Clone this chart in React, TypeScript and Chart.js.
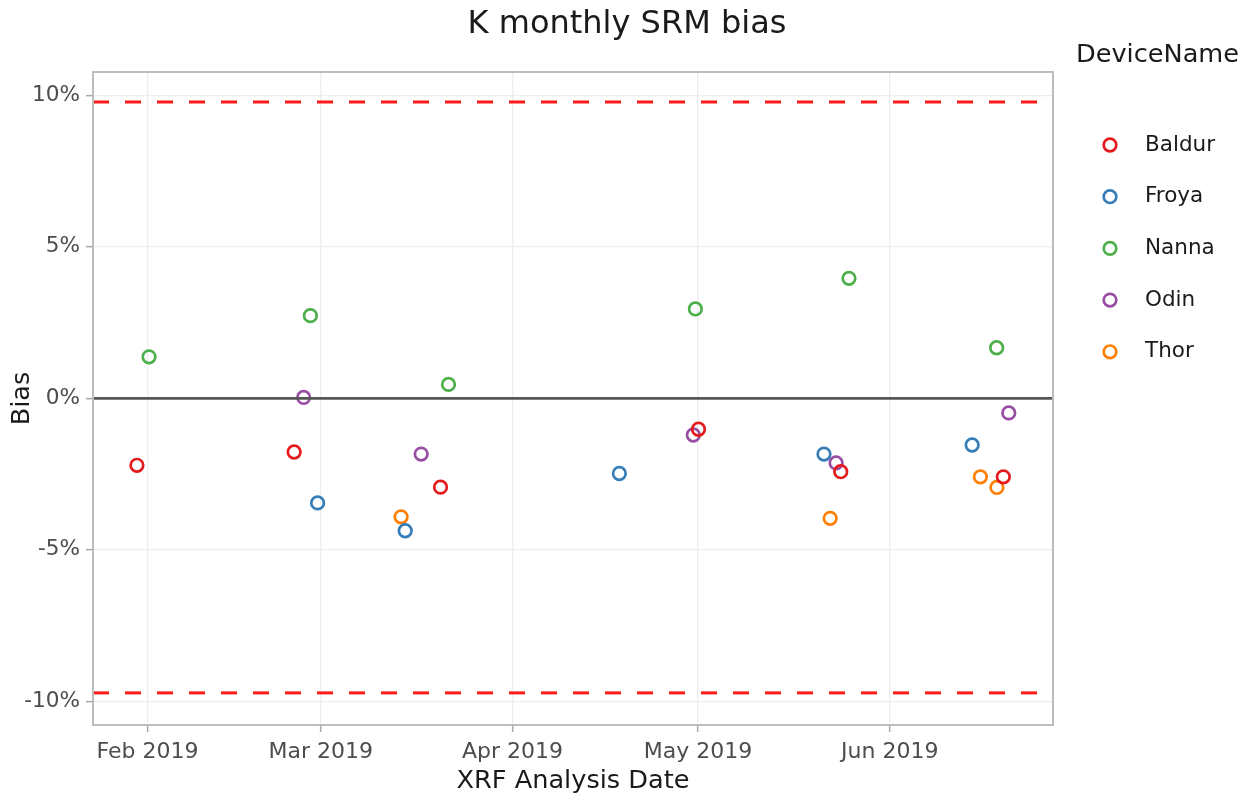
import React, { useEffect, useRef } from "react";
import { Chart, registerables } from "chart.js";

Chart.register(...registerables);

// ---- Data ----
const chartTitle = "K monthly SRM bias";
const xAxisTitle = "XRF Analysis Date";
const yAxisTitle = "Bias";
const legendTitle = "DeviceName";

const deviceNames = ["Baldur", "Froya", "Nanna", "Odin", "Thor"];

const baldurDates = ["2019-01-30T07:00", "2019-02-24T17:00", "2019-03-20T09:00", "2019-05-01T02:00", "2019-05-24T02:00", "2019-06-19T09:00"];
const baldurBias = [-2.21, -1.77, -2.93, -1.02, -2.42, -2.59];

const froyaDates = ["2019-02-28T12:00", "2019-03-14T16:00", "2019-04-18T07:00", "2019-05-21T09:00", "2019-06-14T08:00"];
const froyaBias = [-3.45, -4.37, -2.48, -1.84, -1.54];

const nannaDates = ["2019-02-01T06:00", "2019-02-27T08:00", "2019-03-21T16:00", "2019-04-30T14:00", "2019-05-25T10:00", "2019-06-18T07:00"];
const nannaBias = [1.37, 2.73, 0.46, 2.95, 3.96, 1.67];

const odinDates = ["2019-02-26T06:00", "2019-03-17T06:00", "2019-04-30T06:00", "2019-05-23T08:00", "2019-06-20T06:00"];
const odinBias = [0.03, -1.84, -1.21, -2.13, -0.48];

const thorDates = ["2019-03-14T00:00", "2019-05-22T09:00", "2019-06-15T16:00", "2019-06-18T08:00"];
const thorBias = [-3.91, -3.96, -2.59, -2.94];

const xTickDates = ["2019-02-01T00:00", "2019-03-01T00:00", "2019-04-01T00:00", "2019-05-01T00:00", "2019-06-01T00:00"];
const xTickLabels = ["Feb 2019", "Mar 2019", "Apr 2019", "May 2019", "Jun 2019"];
const yTickValues = [-10, -5, 0, 5, 10];

const xRange = ["2019-01-23T04:30", "2019-06-27T09:40"];
const yRange = [-10.78, 10.77];

const centerLine = 0;
const upperLimit = 9.78;
const lowerLimit = -9.72;

// ---- Styles ----
const deviceColors = ["#E41A1C", "#377EB8", "#4DAF4A", "#984EA3", "#FF7F00"];
const FONT = "'DejaVu Sans', Verdana, sans-serif";

const toMs = (s: string) => Date.parse(s + "Z");

const seriesDates = [baldurDates, froyaDates, nannaDates, odinDates, thorDates];
const seriesBias = [baldurBias, froyaBias, nannaBias, odinBias, thorBias];

const panelAndLegend = {
  id: "panelAndLegend",
  afterDatasetsDraw(chart: any) {
    const { ctx, chartArea: a } = chart;
    ctx.save();
    ctx.strokeStyle = "#bdbdbd";
    ctx.lineWidth = 2;
    ctx.strokeRect(a.left, a.top, a.right - a.left, a.bottom - a.top);
    ctx.restore();
  },
  afterDraw(chart: any) {
    const { ctx, chartArea: a } = chart;
    ctx.save();
    ctx.textBaseline = "middle";
    ctx.textAlign = "left";
    ctx.fillStyle = "#1a1a1a";
    ctx.font = `25.6px ${FONT}`;
    ctx.fillText(legendTitle, a.right + 23, 55);
    ctx.font = `21.5px ${FONT}`;
    deviceNames.forEach((name, i) => {
      const y = 145 + i * 51.7;
      ctx.beginPath();
      ctx.arc(a.right + 57, y, 6.3, 0, Math.PI * 2);
      ctx.strokeStyle = deviceColors[i];
      ctx.lineWidth = 2.7;
      ctx.stroke();
      ctx.fillStyle = "#1a1a1a";
      ctx.fillText(name, a.right + 92, y);
    });
    ctx.restore();
  },
};

export default function App() {
  const canvasRef = useRef<HTMLCanvasElement | null>(null);

  useEffect(() => {
    if (!canvasRef.current) return;
    const xMin = toMs(xRange[0]);
    const xMax = toMs(xRange[1]);
    const xTicks = xTickDates.map(toMs);

    const hline = (v: number, color: string, width: number, dash: number[]) => ({
      type: "line" as const,
      label: "",
      data: [
        { x: xMin, y: v },
        { x: xMax, y: v },
      ],
      showLine: true,
      borderColor: color,
      borderWidth: width,
      borderDash: dash,
      pointRadius: 0,
      fill: false,
    });

    const pointSets = deviceNames.map((name, i) => ({
      type: "scatter" as const,
      label: name,
      data: seriesDates[i].map((d, j) => ({ x: toMs(d), y: seriesBias[i][j] })),
      borderColor: deviceColors[i],
      backgroundColor: "rgba(0,0,0,0)",
      pointRadius: 6.3,
      pointBorderWidth: 2.7,
      pointHoverRadius: 6.3,
    }));

    const chart = new Chart(canvasRef.current, {
      type: "scatter",
      data: {
        datasets: [
          hline(centerLine, "#575757", 2.6, []),
          hline(upperLimit, "#FF1A1A", 3, [16, 16]),
          hline(lowerLimit, "#FF1A1A", 3, [16, 16]),
          ...pointSets,
        ] as any,
      },
      options: {
        responsive: false,
        animation: false,
        layout: { padding: 0 },
        plugins: {
          legend: { display: false },
          tooltip: { enabled: false },
          title: {
            display: true,
            text: chartTitle,
            color: "#1a1a1a",
            font: { family: FONT, size: 32, weight: "normal" },
            padding: { top: 5, bottom: 28.6 },
          },
        },
        scales: {
          x: {
            type: "linear",
            min: xMin,
            max: xMax,
            bounds: "data",
            afterFit: (s: any) => {
              s.height = 74;
            },
            afterBuildTicks: (s: any) => {
              s.ticks = xTicks.map((v) => ({ value: v }));
            },
            ticks: {
              autoSkip: false,
              maxRotation: 0,
              padding: 7,
              color: "#4d4d4d",
              font: { family: FONT, size: 22 },
              callback: (v: any) => {
                const idx = xTicks.indexOf(Number(v));
                return idx >= 0 ? xTickLabels[idx] : "";
              },
            },
            grid: {
              color: "#eeeeee",
              lineWidth: 1.3,
              tickLength: 7,
              tickColor: "#a8a8a8",
              tickWidth: 1.5,
            },
            border: { display: false },
            title: {
              display: true,
              text: xAxisTitle,
              color: "#1a1a1a",
              font: { family: FONT, size: 25.6 },
              padding: { top: 0, bottom: 2 },
            },
          },
          y: {
            type: "linear",
            min: yRange[0],
            max: yRange[1],
            bounds: "data",
            afterFit: (s: any) => {
              s.width = 93;
            },
            afterBuildTicks: (s: any) => {
              s.ticks = yTickValues.map((v) => ({ value: v }));
            },
            ticks: {
              padding: 6,
              color: "#4d4d4d",
              font: { family: FONT, size: 21.6 },
              callback: (v: any) => `${v}%`,
            },
            grid: {
              color: "#eeeeee",
              lineWidth: 1.3,
              tickLength: 7,
              tickColor: "#a8a8a8",
              tickWidth: 1.5,
            },
            border: { display: false },
            title: {
              display: true,
              text: yAxisTitle,
              color: "#1a1a1a",
              font: { family: FONT, size: 25.6 },
              padding: { top: 7, bottom: 0 },
            },
          },
          legendSpace: {
            type: "linear",
            position: "right",
            display: true,
            afterFit: (s: any) => {
              s.width = 201;
            },
            ticks: { display: false },
            grid: { display: false, drawTicks: false },
            border: { display: false },
          },
        },
      } as any,
      plugins: [panelAndLegend],
    });
    return () => chart.destroy();
  }, []);

  return (
    <div style={{ position: "absolute", left: 0, top: 0, width: 1254, height: 799, background: "#fff" }}>
      <canvas ref={canvasRef} width={1254} height={799} style={{ display: "block" }} />
    </div>
  );
}
